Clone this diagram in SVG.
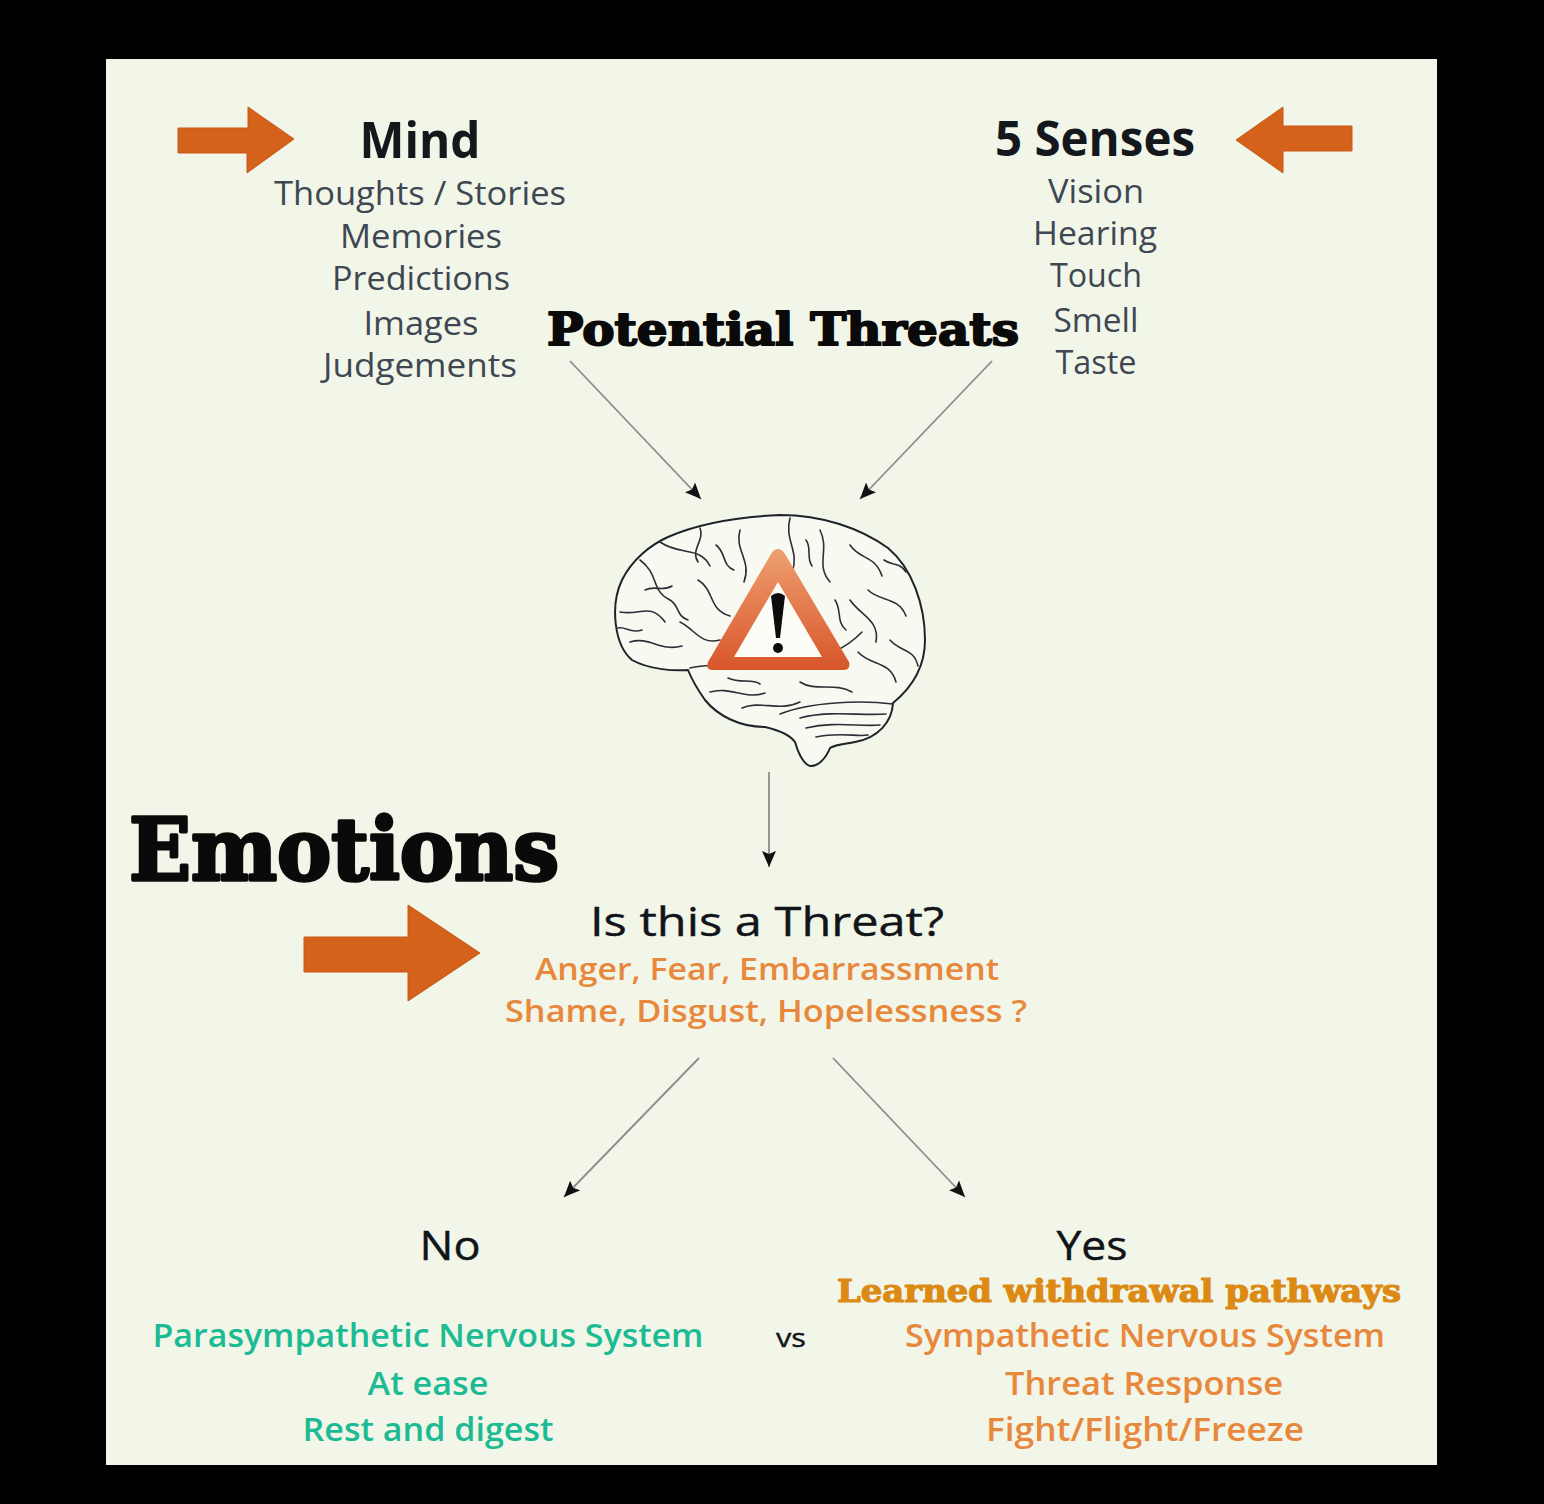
<svg xmlns="http://www.w3.org/2000/svg" width="1544" height="1504" viewBox="0 0 1544 1504">
<defs>
<style>
.sans{font-family:"Open Sans","Noto Sans","Liberation Sans",sans-serif;text-anchor:middle}
.serif{font-family:"DejaVu Serif","Liberation Serif",serif;font-weight:700;text-anchor:middle;stroke-linejoin:round}
.head{font-weight:700;fill:#14171c}
.lite{font-weight:400;fill:#3e4752}
.blk{font-weight:400;fill:#111418;stroke:#111418;stroke-width:0.4}
.orng{font-weight:600;fill:#e8883d}
.teal{font-weight:600;fill:#1dbb93}
.conn{stroke:#8c8c8c;stroke-width:1.8;fill:none;marker-end:url(#ah)}
.bigarrow{fill:#d4621b;stroke:#c9581a;stroke-width:1}
.gy{fill:none;stroke:#2a2f36;stroke-width:1.6;stroke-linecap:round}
</style>
<marker id="ah" markerUnits="userSpaceOnUse" markerWidth="18" markerHeight="16" refX="16" refY="8" orient="auto">
<path d="M0,1 L16,8 L0,15 L3,8 z" fill="#111"/>
</marker>
<linearGradient id="tri" x1="0" y1="0" x2="0" y2="1">
<stop offset="0" stop-color="#eea070"/>
<stop offset="1" stop-color="#d8552a"/>
</linearGradient>
</defs>
<rect x="0" y="0" width="1544" height="1504" fill="#000"/>
<rect x="106" y="59" width="1331" height="1406" fill="#f2f6e8"/>

<g id="arrow-mind">
<path class="bigarrow" d="M178,128 L248,128 L248,107 L294,139 L247,173 L247,153 L178,153 z"/>
</g>
<g id="arrow-senses">
<path class="bigarrow" d="M1352,126 L1283,126 L1283,107 L1236,140 L1283,173 L1283,151 L1352,151 z"/>
</g>
<g id="arrow-emotions">
<path class="bigarrow" d="M304,937 L408,937 L408,905 L480,953 L408,1001 L408,972 L304,972 z"/>
</g>

<g id="mind">
<text class="sans head" x="420" y="158" font-size="50" textLength="121" lengthAdjust="spacingAndGlyphs">Mind</text>
<text class="sans lite" x="420" y="205" font-size="33" textLength="292" lengthAdjust="spacingAndGlyphs">Thoughts / Stories</text>
<text class="sans lite" x="421" y="248" font-size="33" textLength="162" lengthAdjust="spacingAndGlyphs">Memories</text>
<text class="sans lite" x="421" y="290" font-size="33" textLength="178" lengthAdjust="spacingAndGlyphs">Predictions</text>
<text class="sans lite" x="421" y="335" font-size="33" textLength="115" lengthAdjust="spacingAndGlyphs">Images</text>
<text class="sans lite" x="420" y="377" font-size="33" textLength="194" lengthAdjust="spacingAndGlyphs">Judgements</text>
</g>

<g id="senses">
<text class="sans head" x="1095" y="156" font-size="48" textLength="200" lengthAdjust="spacingAndGlyphs">5 Senses</text>
<text class="sans lite" x="1096" y="203" font-size="33" textLength="96" lengthAdjust="spacingAndGlyphs">Vision</text>
<text class="sans lite" x="1095" y="245" font-size="33" textLength="124" lengthAdjust="spacingAndGlyphs">Hearing</text>
<text class="sans lite" x="1096" y="287" font-size="33" textLength="92" lengthAdjust="spacingAndGlyphs">Touch</text>
<text class="sans lite" x="1096" y="332" font-size="33" textLength="85" lengthAdjust="spacingAndGlyphs">Smell</text>
<text class="sans lite" x="1096" y="374" font-size="33" textLength="81" lengthAdjust="spacingAndGlyphs">Taste</text>
</g>

<g id="potential-threats">
<text class="serif" x="783" y="345" font-size="45" fill="#0a0a0a" stroke="#0a0a0a" stroke-width="2" textLength="472" lengthAdjust="spacingAndGlyphs">Potential Threats</text>
</g>

<g id="brain">
<path d="M632,660 C614,645 610,605 622,580 C632,560 650,545 668,537 C695,525 735,517 780,515 C822,515 860,528 888,548 C912,568 925,605 925,640 C925,665 915,685 893,703 C892,722 878,738 855,742 C845,744 836,744 830,748 C826,758 818,767 810,766 C803,764 798,752 795,742 C790,735 778,730 765,727 C740,727 718,716 705,700 C698,690 692,680 688,670 C675,671 650,670 632,660 z" fill="#f8faf2" stroke="#1e2329" stroke-width="2"/>
<path class="gy" d="M690,668 C720,660 750,674 790,666 C820,660 845,650 862,632"/>
<path class="gy" d="M640,560 C660,575 650,590 670,600 C680,606 676,616 688,620"/>
<path class="gy" d="M660,542 C680,556 700,546 710,566"/>
<path class="gy" d="M620,612 C640,616 650,602 665,622"/>
<path class="gy" d="M630,642 C650,636 660,652 682,646"/>
<path class="gy" d="M698,580 C715,590 708,610 730,616"/>
<path class="gy" d="M740,530 C734,550 752,560 744,582"/>
<path class="gy" d="M680,622 C696,630 700,645 720,640"/>
<path class="gy" d="M700,528 C705,540 690,550 698,562"/>
<path class="gy" d="M645,590 C655,585 662,592 672,586"/>
<path class="gy" d="M716,545 C726,552 722,566 734,570"/>
<path class="gy" d="M618,628 C626,626 630,634 642,630"/>
<path class="gy" d="M790,518 C784,540 800,552 792,572"/>
<path class="gy" d="M806,540 C812,548 806,558 812,566"/>
<path class="gy" d="M820,530 C830,550 815,565 830,582"/>
<path class="gy" d="M850,545 C860,560 875,555 882,576"/>
<path class="gy" d="M868,590 C880,602 898,596 906,616"/>
<path class="gy" d="M850,600 C860,615 880,620 876,642"/>
<path class="gy" d="M890,640 C900,652 914,648 918,666"/>
<path class="gy" d="M858,652 C870,666 890,660 896,682"/>
<path class="gy" d="M884,560 C892,566 900,562 906,572"/>
<path class="gy" d="M835,600 C842,610 836,622 846,630"/>
<path class="gy" d="M710,692 C730,686 745,700 765,693"/>
<path class="gy" d="M742,708 C760,700 780,712 800,702"/>
<path class="gy" d="M800,682 C815,692 835,682 852,692"/>
<path class="gy" d="M728,678 C740,684 752,678 760,684"/>
<path class="gy" d="M780,714 C810,702 860,700 893,704"/>
<path class="gy" d="M800,718 C830,710 860,716 886,714" stroke-width="1.1"/>
<path class="gy" d="M806,728 C835,721 860,727 880,725" stroke-width="1.1"/>
<path class="gy" d="M816,737 C840,732 858,737 868,735" stroke-width="1.1"/>
<path d="M778,549 Q782,549 785,554 L849,662 Q851,670 843,670 L713,670 Q705,670 708,662 L771,554 Q774,549 778,549 z" fill="url(#tri)"/>
<path d="M778,582 L822,657 L734,657 z" fill="#fdfdf8"/>
<path d="M771,596 Q778,590 785,596 L780,638 L776,638 z" fill="#0c0c0c"/>
<circle cx="778" cy="648" r="5" fill="#0c0c0c"/>
</g>

<g id="emotions">
<text class="serif" x="344" y="880" font-size="86" fill="#0a0a0a" stroke="#0a0a0a" stroke-width="3.5" textLength="430" lengthAdjust="spacingAndGlyphs">Emotions</text>
</g>

<g id="threat-question">
<text class="sans blk" x="767" y="936" font-size="40" textLength="354" lengthAdjust="spacingAndGlyphs">Is this a Threat?</text>
<text class="sans orng" x="767" y="980" font-size="31" textLength="464" lengthAdjust="spacingAndGlyphs">Anger, Fear, Embarrassment</text>
<text class="sans orng" x="766" y="1022" font-size="31" textLength="522" lengthAdjust="spacingAndGlyphs">Shame, Disgust, Hopelessness ?</text>
</g>

<g id="no">
<text class="sans blk" x="450" y="1260" font-size="40" textLength="61" lengthAdjust="spacingAndGlyphs">No</text>
<text class="sans teal" x="428" y="1347" font-size="32" textLength="551" lengthAdjust="spacingAndGlyphs">Parasympathetic Nervous System</text>
<text class="sans teal" x="428" y="1395" font-size="32" textLength="121" lengthAdjust="spacingAndGlyphs">At ease</text>
<text class="sans teal" x="428" y="1441" font-size="32" textLength="251" lengthAdjust="spacingAndGlyphs">Rest and digest</text>
</g>

<g id="vs">
<text class="sans blk" x="791" y="1347" font-size="26" textLength="30" lengthAdjust="spacingAndGlyphs">vs</text>
</g>

<g id="yes">
<text class="sans blk" x="1092" y="1260" font-size="40" textLength="71" lengthAdjust="spacingAndGlyphs">Yes</text>
<text class="serif" x="1119" y="1302" font-size="31" fill="#dc8a14" stroke="#dc8a14" stroke-width="1.2" textLength="564" lengthAdjust="spacingAndGlyphs">Learned withdrawal pathways</text>
<text class="sans orng" x="1145" y="1347" font-size="32" textLength="480" lengthAdjust="spacingAndGlyphs">Sympathetic Nervous System</text>
<text class="sans orng" x="1144" y="1395" font-size="32" textLength="278" lengthAdjust="spacingAndGlyphs">Threat Response</text>
<text class="sans orng" x="1145" y="1441" font-size="32" textLength="318" lengthAdjust="spacingAndGlyphs">Fight/Flight/Freeze</text>
</g>

<g id="connectors">
<line class="conn" x1="570" y1="361" x2="701" y2="499"/>
<line class="conn" x1="992" y1="361" x2="860" y2="499"/>
<line class="conn" x1="769" y1="772" x2="769" y2="867"/>
<line class="conn" x1="699" y1="1058" x2="564" y2="1197"/>
<line class="conn" x1="833" y1="1058" x2="965" y2="1197"/>
</g>
</svg>
